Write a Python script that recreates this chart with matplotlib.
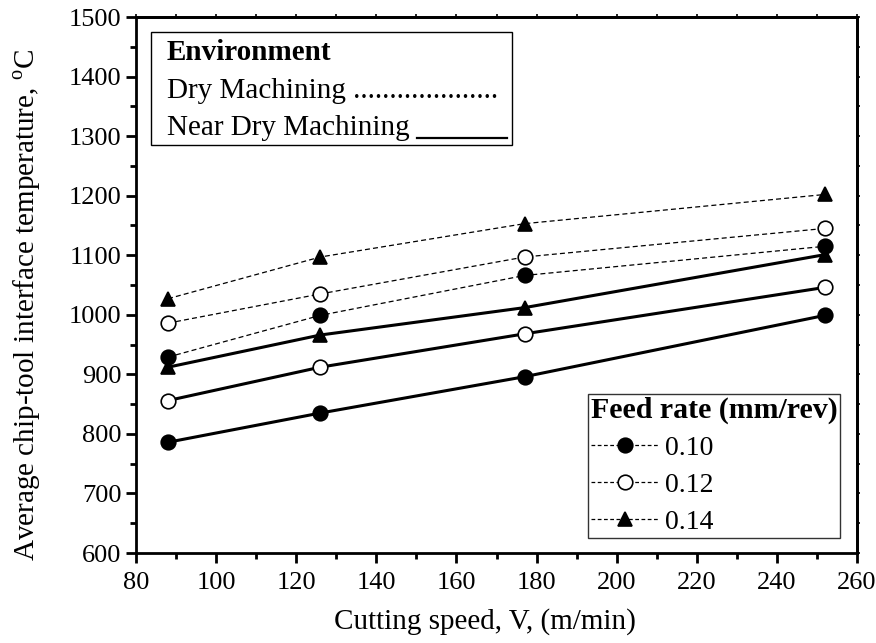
import matplotlib.pyplot as plt
from matplotlib.lines import Line2D
from matplotlib.patches import Rectangle
from matplotlib.ticker import MultipleLocator

plt.rcParams['font.family'] = ['Liberation Serif', 'DejaVu Serif']
plt.rcParams['mathtext.fontset'] = 'custom'
plt.rcParams['mathtext.rm'] = 'Liberation Serif'

speed = [88, 126, 177, 252]
feed_labels = ['0.10', '0.12', '0.14']
markers = ['o', 'o', '^']
faces = ['black', 'white', 'black']

# dry machining temperatures, one list per feed rate
dry = [
    [929, 999, 1066, 1115],
    [986, 1035, 1097, 1145],
    [1027, 1097, 1153, 1202],
]
# near dry machining temperatures
near_dry = [
    [786, 835, 896, 999],
    [856, 912, 968, 1046],
    [912, 966, 1012, 1101],
]

fig = plt.figure(figsize=(8.76, 6.43), dpi=100)
ax = fig.add_axes([136/876, 1 - 553/643, (857-136)/876, (553-17)/643])

for i in range(3):
    ax.plot(speed, dry[i], '--', color='black', lw=0.9, dashes=(4, 2.5),
            marker=markers[i], mfc=faces[i], mec='black', ms=10.5, mew=1.2)
    ax.plot(speed, near_dry[i], '-', color='black', lw=2.2,
            marker=markers[i], mfc=faces[i], mec='black', ms=10.5, mew=1.2)

ax.set_xlim(80, 260)
ax.set_ylim(600, 1500)
ax.xaxis.set_major_locator(MultipleLocator(20))
ax.xaxis.set_minor_locator(MultipleLocator(10))
ax.yaxis.set_major_locator(MultipleLocator(100))
ax.yaxis.set_minor_locator(MultipleLocator(50))
ax.tick_params(which='both', direction='out', width=2, labelsize=19,
               top=False, right=False)
ax.tick_params(which='major', length=7)
ax.tick_params(which='minor', length=4)
ax.tick_params(axis='x', which='major', pad=7)
for s in ax.spines.values():
    s.set_linewidth(2)

# small unlabeled ticks along the top and right edges
top = ax.secondary_xaxis('top')
top.xaxis.set_major_locator(MultipleLocator(10))
top.tick_params(direction='out', length=2, width=1.2, labeltop=False)
right = ax.secondary_yaxis('right')
right.yaxis.set_major_locator(MultipleLocator(50))
right.tick_params(direction='out', length=2, width=1.2, labelright=False)
for s in list(top.spines.values()) + list(right.spines.values()):
    s.set_linewidth(2)

ax.set_xlabel('Cutting speed, V, (m/min)', fontsize=21)
ax.set_ylabel(r'Average chip-tool interface temperature, $^{\rm o}$C',
              fontsize=21)
ax.xaxis.set_label_coords(0.484, -0.102)
ax.yaxis.set_label_coords(-0.129, 0.462)

# environment key drawn as a framed text block
ax.add_patch(Rectangle((0.021, 0.761), 0.5, 0.211, transform=ax.transAxes,
                       fill=False, ec='black', lw=1, zorder=5))
ax.text(0.043, 0.920, 'Environment', transform=ax.transAxes, fontsize=21,
        fontweight='bold', va='baseline')
ax.text(0.043, 0.849, 'Dry Machining ' + '.' * 20, transform=ax.transAxes,
        fontsize=21, va='baseline')
ax.text(0.043, 0.780, 'Near Dry Machining', transform=ax.transAxes,
        fontsize=21, va='baseline')
ax.plot([0.390, 0.515], [0.774, 0.774], color='black', lw=1.6,
        transform=ax.transAxes)

# feed rate key
feed_handles = [Line2D([], [], color='black', ls='--', lw=0.9, dashes=(3, 2),
                       marker=markers[i], mfc=faces[i], mec='black',
                       ms=10.5, mew=1.2) for i in range(3)]
leg = ax.legend(feed_handles, feed_labels, loc='lower right',
                bbox_to_anchor=(0.977, 0.028), fontsize=20,
                title='Feed rate (mm/rev)', alignment='left',
                title_fontproperties={'weight': 'bold', 'size': 21.5},
                frameon=True, fancybox=False, edgecolor='black',
                handlelength=2.45, handletextpad=0.2, labelspacing=0.42,
                borderpad=0.1, borderaxespad=0)
leg.get_frame().set_linewidth(1)

fig.savefig('out.png', dpi=100)
